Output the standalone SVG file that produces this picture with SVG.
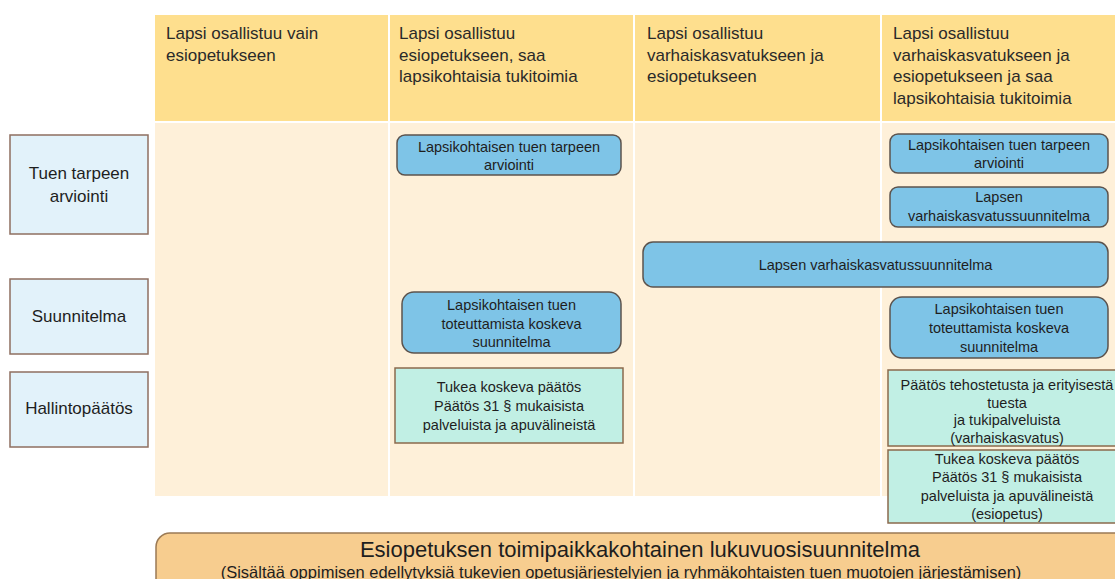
<svg xmlns="http://www.w3.org/2000/svg" width="1115" height="579" viewBox="0 0 1115 579">
<style>
text{font-family:"Liberation Sans",Arial,sans-serif;fill:#1e1e1e}
.hd{fill:#FEDF8E}
.bd{fill:#FEF0D9}
.hdt{font-size:17px;fill:#2a2a2a}
.lab rect{fill:#E2F2FA;stroke:#8E6F60;stroke-width:1.5}
.lab text{font-size:17px;text-anchor:middle}
.blue rect{fill:#7EC4E7;stroke:#5C534D;stroke-width:1.5}
.green rect{fill:#C1EFE4;stroke:#8A6A4C;stroke-width:1.5}
.bx text{font-size:14.5px;text-anchor:middle}
.ban rect{fill:#F7CD8F;stroke:#9B7A55;stroke-width:1.5}
</style>
<rect width="1115" height="579" fill="#ffffff"/>
<g id="grid">
<rect class="hd" x="155" y="15" width="233" height="106"/>
<rect class="hd" x="390" y="15" width="243" height="106"/>
<rect class="hd" x="635" y="15" width="245" height="106"/>
<rect class="hd" x="882" y="15" width="233" height="106"/>
<rect class="bd" x="155" y="123" width="233" height="373"/>
<rect class="bd" x="390" y="123" width="243" height="373"/>
<rect class="bd" x="635" y="123" width="245" height="373"/>
<rect class="bd" x="882" y="123" width="233" height="373"/>
</g>
<g id="header-1"><text class="hdt" x="166" y="39">Lapsi osallistuu vain</text><text class="hdt" x="166" y="60.5">esiopetukseen</text></g>
<g id="header-2"><text class="hdt" x="399" y="39">Lapsi osallistuu</text><text class="hdt" x="399" y="60.5">esiopetukseen, saa</text><text class="hdt" x="399" y="82">lapsikohtaisia tukitoimia</text></g>
<g id="header-3"><text class="hdt" x="647" y="39">Lapsi osallistuu</text><text class="hdt" x="647" y="60.5">varhaiskasvatukseen ja</text><text class="hdt" x="647" y="82">esiopetukseen</text></g>
<g id="header-4"><text class="hdt" x="893" y="39">Lapsi osallistuu</text><text class="hdt" x="893" y="60.5">varhaiskasvatukseen ja</text><text class="hdt" x="893" y="82">esiopetukseen ja saa</text><text class="hdt" x="893" y="103.5">lapsikohtaisia tukitoimia</text></g>

<g id="label-arviointi" class="lab"><rect x="10" y="135" width="138" height="99"/><text x="79" y="179">Tuen tarpeen</text><text x="79" y="202">arviointi</text></g>
<g id="label-suunnitelma" class="lab"><rect x="10" y="279" width="138" height="75"/><text x="79" y="322">Suunnitelma</text></g>
<g id="label-hallintopaatos" class="lab"><rect x="10" y="372" width="138" height="75"/><text x="79" y="414">Hallintopäätös</text></g>

<g id="c2-arviointi" class="bx blue"><rect x="397" y="135" width="224" height="40" rx="8"/><text x="509" y="152">Lapsikohtaisen tuen tarpeen</text><text x="509" y="170">arviointi</text></g>
<g id="c2-suunnitelma" class="bx blue"><rect x="402" y="292" width="219" height="61" rx="12"/><text x="511.5" y="310">Lapsikohtaisen tuen</text><text x="511.5" y="328.5">toteuttamista koskeva</text><text x="511.5" y="347">suunnitelma</text></g>
<g id="c2-paatos" class="bx green"><rect x="395" y="368" width="228" height="75"/><text x="509" y="392">Tukea koskeva päätös</text><text x="509" y="411">Päätös 31 § mukaisista</text><text x="509" y="430">palveluista ja apuvälineistä</text></g>

<g id="c34-vasu" class="bx blue"><rect x="643" y="242" width="465" height="45" rx="10"/><text x="875.5" y="270">Lapsen varhaiskasvatussuunnitelma</text></g>

<g id="c4-arviointi" class="bx blue"><rect x="890" y="134" width="218" height="39" rx="8"/><text x="999" y="150">Lapsikohtaisen tuen tarpeen</text><text x="999" y="168">arviointi</text></g>
<g id="c4-vasu" class="bx blue"><rect x="890" y="187" width="218" height="40" rx="8"/><text x="999" y="202">Lapsen</text><text x="999" y="221">varhaiskasvatussuunnitelma</text></g>
<g id="c4-suunnitelma" class="bx blue"><rect x="890" y="297" width="218" height="61" rx="12"/><text x="999" y="314">Lapsikohtaisen tuen</text><text x="999" y="333">toteuttamista koskeva</text><text x="999" y="352">suunnitelma</text></g>
<g id="c4-paatos-vk" class="bx green"><rect x="888" y="370" width="238" height="76"/><text x="1007" y="390">Päätös tehostetusta ja erityisestä</text><text x="1007" y="408">tuesta</text><text x="1007" y="425">ja tukipalveluista</text><text x="1007" y="443">(varhaiskasvatus)</text></g>
<g id="c4-paatos-eo" class="bx green"><rect x="888" y="450" width="238" height="73"/><text x="1007" y="464">Tukea koskeva päätös</text><text x="1007" y="482">Päätös 31 § mukaisista</text><text x="1007" y="501">palveluista ja apuvälineistä</text><text x="1007" y="519">(esiopetus)</text></g>

<g id="banner" class="ban"><rect x="156" y="533" width="980" height="70" rx="14"/><text x="640" y="557" font-size="22" text-anchor="middle">Esiopetuksen toimipaikkakohtainen lukuvuosisuunnitelma</text><text x="621" y="578" font-size="16.5" text-anchor="middle">(Sisältää oppimisen edellytyksiä tukevien opetusjärjestelyjen ja ryhmäkohtaisten tuen muotojen järjestämisen)</text></g>
<g id="connectors"></g>
</svg>
